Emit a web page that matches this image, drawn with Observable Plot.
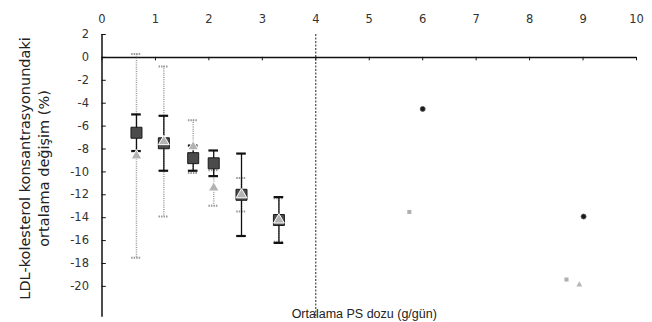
<!DOCTYPE html>
<html>
<head>
<meta charset="utf-8">
<script src="https://cdn.jsdelivr.net/npm/d3@7"></script>
<script src="https://cdn.jsdelivr.net/npm/@observablehq/plot@0.6"></script>
<style>
  html, body { margin: 0; padding: 0; background: #ffffff; }
  svg { display: block; }
</style>
</head>
<body>
<div id="chart"></div>
<script>
// ---- data ----
const xTicks = [0, 1, 2, 3, 4, 5, 6, 7, 8, 9, 10];
const yTicks = [2, 0, -2, -4, -6, -8, -10, -12, -14, -16, -18, -20];
const groupDose = [0.645, 1.157, 1.706, 2.09, 2.61, 3.31];
const squareMean = [-6.58, -7.5, -8.8, -9.25, -12.0, -14.2];
const squareErr = [1.6, 2.4, 1.1, 1.12, 3.6, 2.0];
const triMean = [-8.6, -7.35, -7.8, -11.4, -12.0, -14.2];
const triErr = [8.9, 6.55, 2.3, 1.55, 1.47, 1.9];
const darkDotDose = [6.0, 9.01];
const darkDotValue = [-4.5, -13.9];
const lightSquareDose = [5.75, 8.69];
const lightSquareValue = [-13.5, -19.4];
const lightTriDose = [8.93];
const lightTriValue = [-19.85];
const cutoffDose = [4];
const yMin = -22.7, yMax = 2;
const xLabel = "Ortalama PS dozu (g/gün)";
const yLabel = "LDL-kolesterol konsantrasyonundaki\nortalama değişim (%)";

const squares = groupDose.map((d, i) => ({dose: d, mean: squareMean[i], err: squareErr[i]}));
const tris = groupDose.map((d, i) => ({dose: d, mean: triMean[i], err: triErr[i]}));
const darkDots = darkDotDose.map((d, i) => ({dose: d, v: darkDotValue[i]}));
const lightSquares = lightSquareDose.map((d, i) => ({dose: d, v: lightSquareValue[i]}));
const lightTris = lightTriDose.map((d, i) => ({dose: d, v: lightTriValue[i]}));
const cap = 0.09;

const chart = Plot.plot({
  width: 652,
  height: 322,
  marginLeft: 101.5,
  marginRight: 16,
  marginTop: 34,
  marginBottom: 5.2,
  x: {domain: [0, 10]},
  y: {domain: [yMin, yMax]},
  style: {background: "#ffffff", fontFamily: "DejaVu Sans, sans-serif", color: "#222"},
  marks: [
    Plot.axisX(xTicks, {anchor: "top", tickSize: 0, tickPadding: 12, fontSize: 11.5, label: null, tickFormat: d => String(d), fill: "#333"}),
    Plot.axisY(yTicks, {anchor: "left", tickSize: 0, tickPadding: 13, fontSize: 11.5, label: null, tickFormat: d => String(d), fill: "#333"}),
    // axes lines
    Plot.ruleX([0], {y1: yMax, y2: yMin, stroke: "#111", strokeWidth: 1.5}),
    Plot.ruleY([0], {x1: 0, x2: 10, stroke: "#111", strokeWidth: 1.5}),
    Plot.ruleX(xTicks, {x: d => d, y1: 0, y2: -0.3, stroke: "#111", strokeWidth: 1}),
    Plot.ruleY(yTicks, {y: d => d, x1: 0, x2: 0.08, stroke: "#111", strokeWidth: 1}),
    // cutoff line
    Plot.ruleX(cutoffDose, {x: d => d, y1: yMax, y2: yMin, stroke: "#222", strokeWidth: 1, strokeDasharray: "2,1.5"}),
    // gray dotted error bars (triangles)
    Plot.ruleX(tris, {x: "dose", y1: d => d.mean + d.err, y2: d => d.mean - d.err, stroke: "#999", strokeWidth: 1.5, strokeDasharray: "1,1.2"}),
    Plot.ruleY(tris, {y: d => d.mean + d.err, x1: d => d.dose - cap, x2: d => d.dose + cap, stroke: "#999", strokeWidth: 2, strokeDasharray: "1.5,1"}),
    Plot.ruleY(tris, {y: d => d.mean - d.err, x1: d => d.dose - cap, x2: d => d.dose + cap, stroke: "#999", strokeWidth: 2, strokeDasharray: "1.5,1"}),
    // dark error bars (squares)
    Plot.ruleX(squares, {x: "dose", y1: d => d.mean + d.err, y2: d => d.mean - d.err, stroke: "#111", strokeWidth: 1.3}),
    Plot.ruleY(squares, {y: d => d.mean + d.err, x1: d => d.dose - cap, x2: d => d.dose + cap, stroke: "#111", strokeWidth: 2.2}),
    Plot.ruleY(squares, {y: d => d.mean - d.err, x1: d => d.dose - cap, x2: d => d.dose + cap, stroke: "#111", strokeWidth: 2.2}),
    // markers
    Plot.dot(squares, {x: "dose", y: "mean", symbol: "square", r: 6.2, fill: "#4b4b4b", stroke: "#1a1a1a", strokeWidth: 1}),
    Plot.dot(tris, {x: "dose", y: "mean", symbol: "triangle", r: 4, fill: "#b3b3b3", stroke: "#ffffff", strokeWidth: 1}),
    // individual studies beyond 4 g
    Plot.dot(darkDots, {x: "dose", y: "v", r: 2.5, fill: "#1a1a1a", stroke: "#555", strokeWidth: 0.8}),
    Plot.dot(lightSquares, {x: "dose", y: "v", symbol: "square", r: 2.3, fill: "#b0b0b0"}),
    Plot.dot(lightTris, {x: "dose", y: "v", symbol: "triangle", r: 2.2, fill: "#b8b8b8"}),
    // titles
    Plot.text([xLabel], {text: d => d, frameAnchor: "bottom", dx: -5, dy: 1, lineAnchor: "bottom", fontSize: 12.5, fontFamily: "Liberation Sans, Arial, sans-serif", fill: "#222"}),
    Plot.text([yLabel], {text: d => d, frameAnchor: "left", textAnchor: "middle", lineAnchor: "middle", rotate: -90, dx: -69, dy: -7.5, fontSize: 14.5, lineHeight: 1.31, fill: "#222"})
  ]
});
document.getElementById("chart").appendChild(chart);
</script>
</body>
</html>
